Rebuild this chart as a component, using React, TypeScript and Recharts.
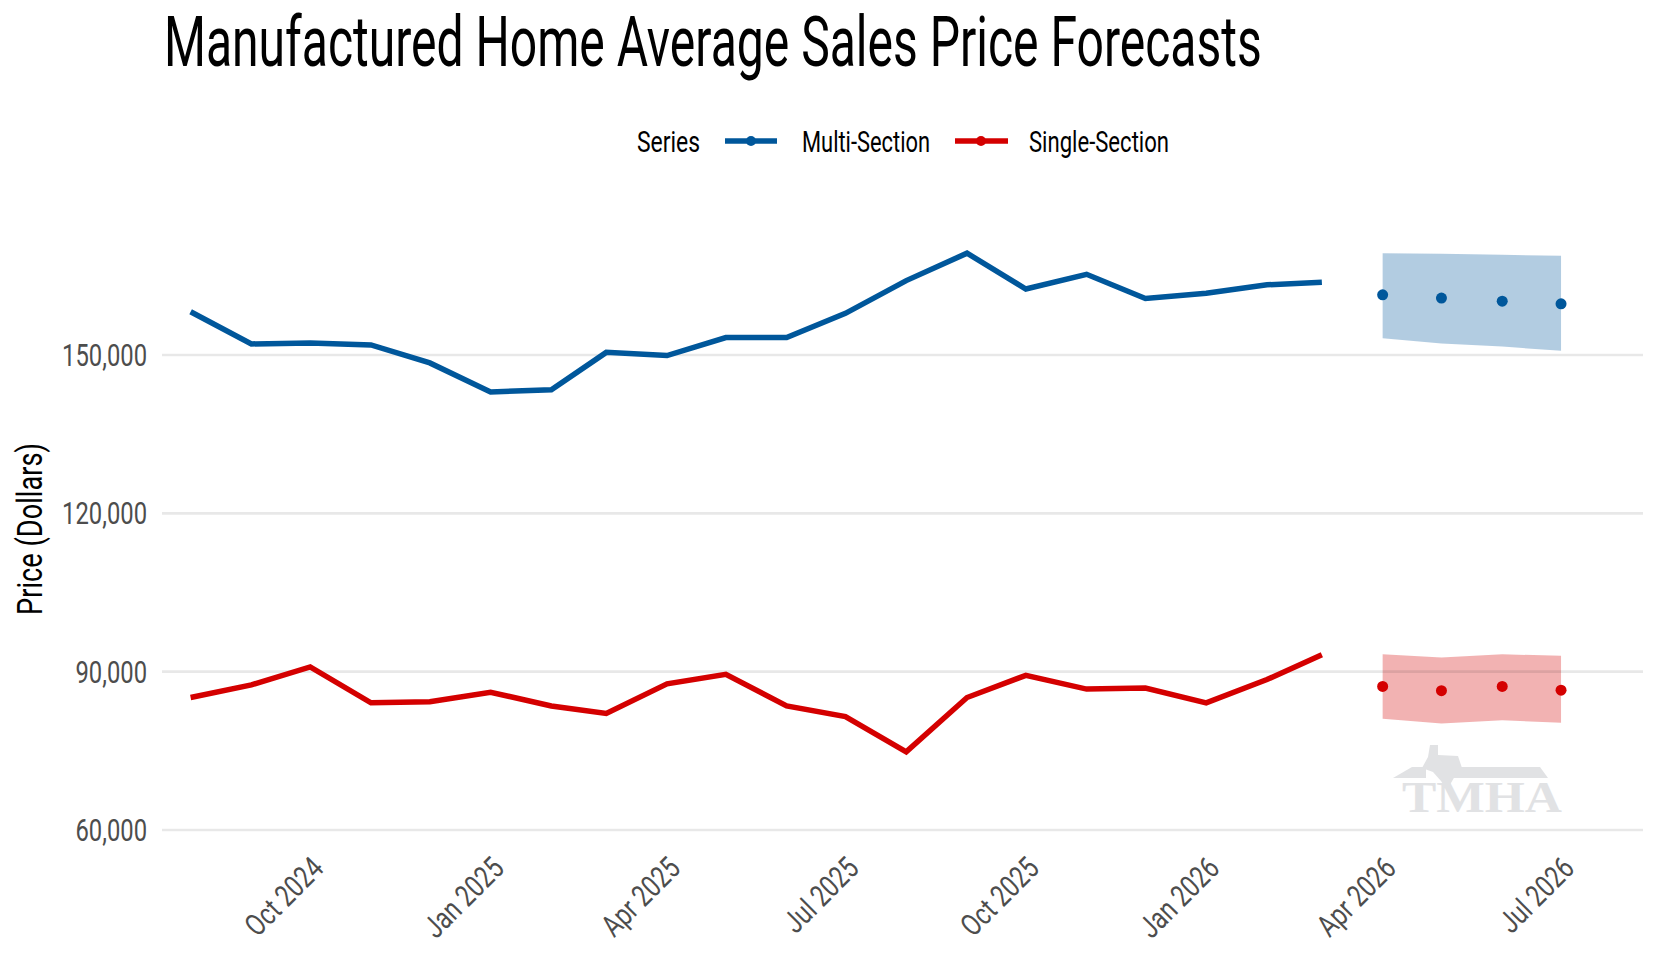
import { useLayoutEffect, useRef, useState } from 'react';
import { ComposedChart, Line, Area, XAxis, YAxis, ReferenceLine } from 'recharts';

const FONT = "Roboto, 'Noto Sans', sans-serif";
const BLUE = '#00579b';
const RED = '#d40000';
const TICK_GREY = '#4d4d4d';
const NARROW = 0.78; // horizontal squeeze to mimic the condensed face

// Monthly, Aug 2024 .. Jul 2026
const months = [
  'Aug 2024', 'Sep 2024', 'Oct 2024', 'Nov 2024', 'Dec 2024', 'Jan 2025',
  'Feb 2025', 'Mar 2025', 'Apr 2025', 'May 2025', 'Jun 2025', 'Jul 2025',
  'Aug 2025', 'Sep 2025', 'Oct 2025', 'Nov 2025', 'Dec 2025', 'Jan 2026',
  'Feb 2026', 'Mar 2026', 'Apr 2026', 'May 2026', 'Jun 2026', 'Jul 2026',
];

// actuals (Aug 2024 .. Mar 2026)
const multiActual = [
  158200, 152100, 152300, 151900, 148500, 143000, 143400, 150500, 149900, 153300,
  153300, 157900, 164100, 169300, 162500, 165300, 160700, 161700, 163300, 163800,
];
const singleActual = [
  85100, 87500, 90900, 84100, 84300, 86100, 83500, 82100, 87700, 89500,
  83500, 81500, 74800, 85100, 89300, 86700, 86900, 84100, 88500, 93200,
];

// forecasts (Apr 2026 .. Jul 2026)
const multiForecast = [161400, 160800, 160200, 159700];
const multiLow = [153200, 152200, 151600, 150800];
const multiHigh = [169300, 169200, 169000, 168800];
const singleForecast = [87200, 86400, 87200, 86500];
const singleLow = [81100, 80200, 80800, 80300];
const singleHigh = [93300, 92700, 93300, 93000];

const tickLabels = ['Oct 2024', 'Jan 2025', 'Apr 2025', 'Jul 2025', 'Oct 2025', 'Jan 2026', 'Apr 2026', 'Jul 2026'];
const yTicks = [60000, 90000, 120000, 150000];

// x is days since the first month, so the axis behaves like a date axis
const DAY = 86400000;
const t0 = Date.UTC(2024, 7, 1);
const dayOf = (label: string) => {
  const [mon, yr] = label.split(' ');
  const m = ['Jan', 'Feb', 'Mar', 'Apr', 'May', 'Jun', 'Jul', 'Aug', 'Sep', 'Oct', 'Nov', 'Dec'].indexOf(mon);
  return (Date.UTC(Number(yr), m, 1) - t0) / DAY;
};
const tickDays = tickLabels.map(dayOf);
const labelByDay: Record<number, string> = Object.fromEntries(tickLabels.map((l) => [dayOf(l), l]));

const nActual = multiActual.length;
const rows = months.map((m, i) => {
  const f = i - nActual;
  return {
    d: dayOf(m),
    multi: i < nActual ? multiActual[i] : undefined,
    single: i < nActual ? singleActual[i] : undefined,
    multiFc: f >= 0 ? multiForecast[f] : undefined,
    singleFc: f >= 0 ? singleForecast[f] : undefined,
    multiBand: f >= 0 ? [multiLow[f], multiHigh[f]] : undefined,
    singleBand: f >= 0 ? [singleLow[f], singleHigh[f]] : undefined,
  };
});

// text squeezed horizontally to a target width
function FitText({ x, y, width, anchor = 'start', rotate = 0, fontSize, fill = '#000', children }: any) {
  const ref = useRef<SVGTextElement>(null);
  const [sx, setSx] = useState(NARROW);
  useLayoutEffect(() => {
    const el = ref.current;
    if (!el) return;
    const w = el.getComputedTextLength();
    if (w > 0) setSx(width / w);
  }, [width]);
  return (
    <text
      ref={ref}
      x={0}
      y={0}
      textAnchor={anchor}
      fontSize={fontSize}
      fontFamily={FONT}
      fill={fill}
      transform={`translate(${x} ${y}) rotate(${rotate}) scale(${sx} 1)`}
    >
      {children}
    </text>
  );
}

const XTick = (props: any) => {
  const { x, y, payload } = props;
  const ax = x + 15;
  const ay = y + 19;
  return (
    <text
      x={0}
      y={0}
      textAnchor="end"
      transform={`translate(${ax} ${ay}) rotate(-45) scale(${NARROW} 1)`}
      fontSize={30.5}
      fill={TICK_GREY}
      fontFamily={FONT}
    >
      {labelByDay[payload.value]}
    </text>
  );
};

const YTick = (props: any) => {
  const { x, y, payload } = props;
  return (
    <text
      x={0}
      y={0}
      dy="0.355em"
      textAnchor="end"
      transform={`translate(${x} ${y}) scale(${NARROW} 1)`}
      fontSize={30.5}
      fill={TICK_GREY}
      fontFamily={FONT}
    >
      {Number(payload.value).toLocaleString('en-US')}
    </text>
  );
};

function Overlay() {
  return (
    <svg
      width={1660}
      height={960}
      style={{ position: 'absolute', left: 0, top: 0, pointerEvents: 'none' }}
    >
      <FitText x={164} y={66} width={1098} fontSize={70}>
        Manufactured Home Average Sales Price Forecasts
      </FitText>

      {/* legend */}
      <FitText x={637} y={152} width={63} fontSize={29.5}>Series</FitText>
      <line x1={725} x2={777} y1={141} y2={141} stroke={BLUE} strokeWidth={5.5} />
      <circle cx={751} cy={141} r={5} fill={BLUE} />
      <FitText x={802} y={152} width={128} fontSize={29.5}>Multi-Section</FitText>
      <line x1={955} x2={1008} y1={141} y2={141} stroke={RED} strokeWidth={5.5} />
      <circle cx={981} cy={141} r={5} fill={RED} />
      <FitText x={1029} y={152} width={140} fontSize={29.5}>Single-Section</FitText>

      <FitText x={42} y={529} width={172} rotate={-90} anchor="middle" fontSize={35}>
        Price (Dollars)
      </FitText>

      {/* TMHA watermark */}
      <g fill="#e1e2e4">
        <polygon points="1393,778 1412,767 1426,767 1426,778" />
        <polygon points="1456,767 1540,767 1548,778 1452,778" />
        <polygon points="1430,745 1438,745 1438,755 1458,756 1462,768 1455,776 1447,790 1441,781 1433,772 1422,768 1428,757" />
        <text
          x={1402}
          y={812}
          fontSize={44}
          fontWeight="bold"
          fontFamily="'Liberation Serif', 'DejaVu Serif', serif"
          textLength={160}
          lengthAdjust="spacingAndGlyphs"
        >
          TMHA
        </text>
      </g>
    </svg>
  );
}

export default function App() {
  return (
    <div style={{ position: 'absolute', left: 0, top: 0, width: 1660, height: 960, background: '#fff' }}>
      <ComposedChart
        width={1660}
        height={960}
        data={rows}
        margin={{ top: 217.8, right: 17, bottom: 0, left: 0 }}
      >
        <XAxis
          dataKey="d"
          type="number"
          domain={[-14.6, 740.8]}
          ticks={tickDays}
          allowDataOverflow
          axisLine={false}
          tickLine={false}
          tickSize={0}
          tickMargin={0}
          height={108.9}
          interval={0}
          tick={<XTick />}
        />
        <YAxis
          type="number"
          domain={[56000, 176000]}
          ticks={yTicks}
          allowDataOverflow
          axisLine={false}
          tickLine={false}
          tickSize={0}
          tickMargin={15}
          width={162}
          tick={<YTick />}
        />
        {/* grid lines: translucent so they read the same on white and through the bands */}
        {yTicks.map((t) => (
          <ReferenceLine key={t} y={t} stroke="#000" strokeOpacity={0.09} strokeWidth={2.6} />
        ))}
        <Area
          type="linear"
          dataKey="multiBand"
          stroke="none"
          fill={BLUE}
          fillOpacity={0.3}
          isAnimationActive={false}
        />
        <Area
          type="linear"
          dataKey="singleBand"
          stroke="none"
          fill={RED}
          fillOpacity={0.3}
          isAnimationActive={false}
        />
        <Line type="linear" dataKey="multi" stroke={BLUE} strokeWidth={5.5} dot={false} activeDot={false} isAnimationActive={false} />
        <Line type="linear" dataKey="single" stroke={RED} strokeWidth={5.5} dot={false} activeDot={false} isAnimationActive={false} />
        <Line
          type="linear"
          dataKey="multiFc"
          stroke="none"
          dot={{ r: 5.5, fill: BLUE, stroke: 'none' }}
          activeDot={false}
          isAnimationActive={false}
        />
        <Line
          type="linear"
          dataKey="singleFc"
          stroke="none"
          dot={{ r: 5.5, fill: RED, stroke: 'none' }}
          activeDot={false}
          isAnimationActive={false}
        />
      </ComposedChart>
      <Overlay />
    </div>
  );
}
